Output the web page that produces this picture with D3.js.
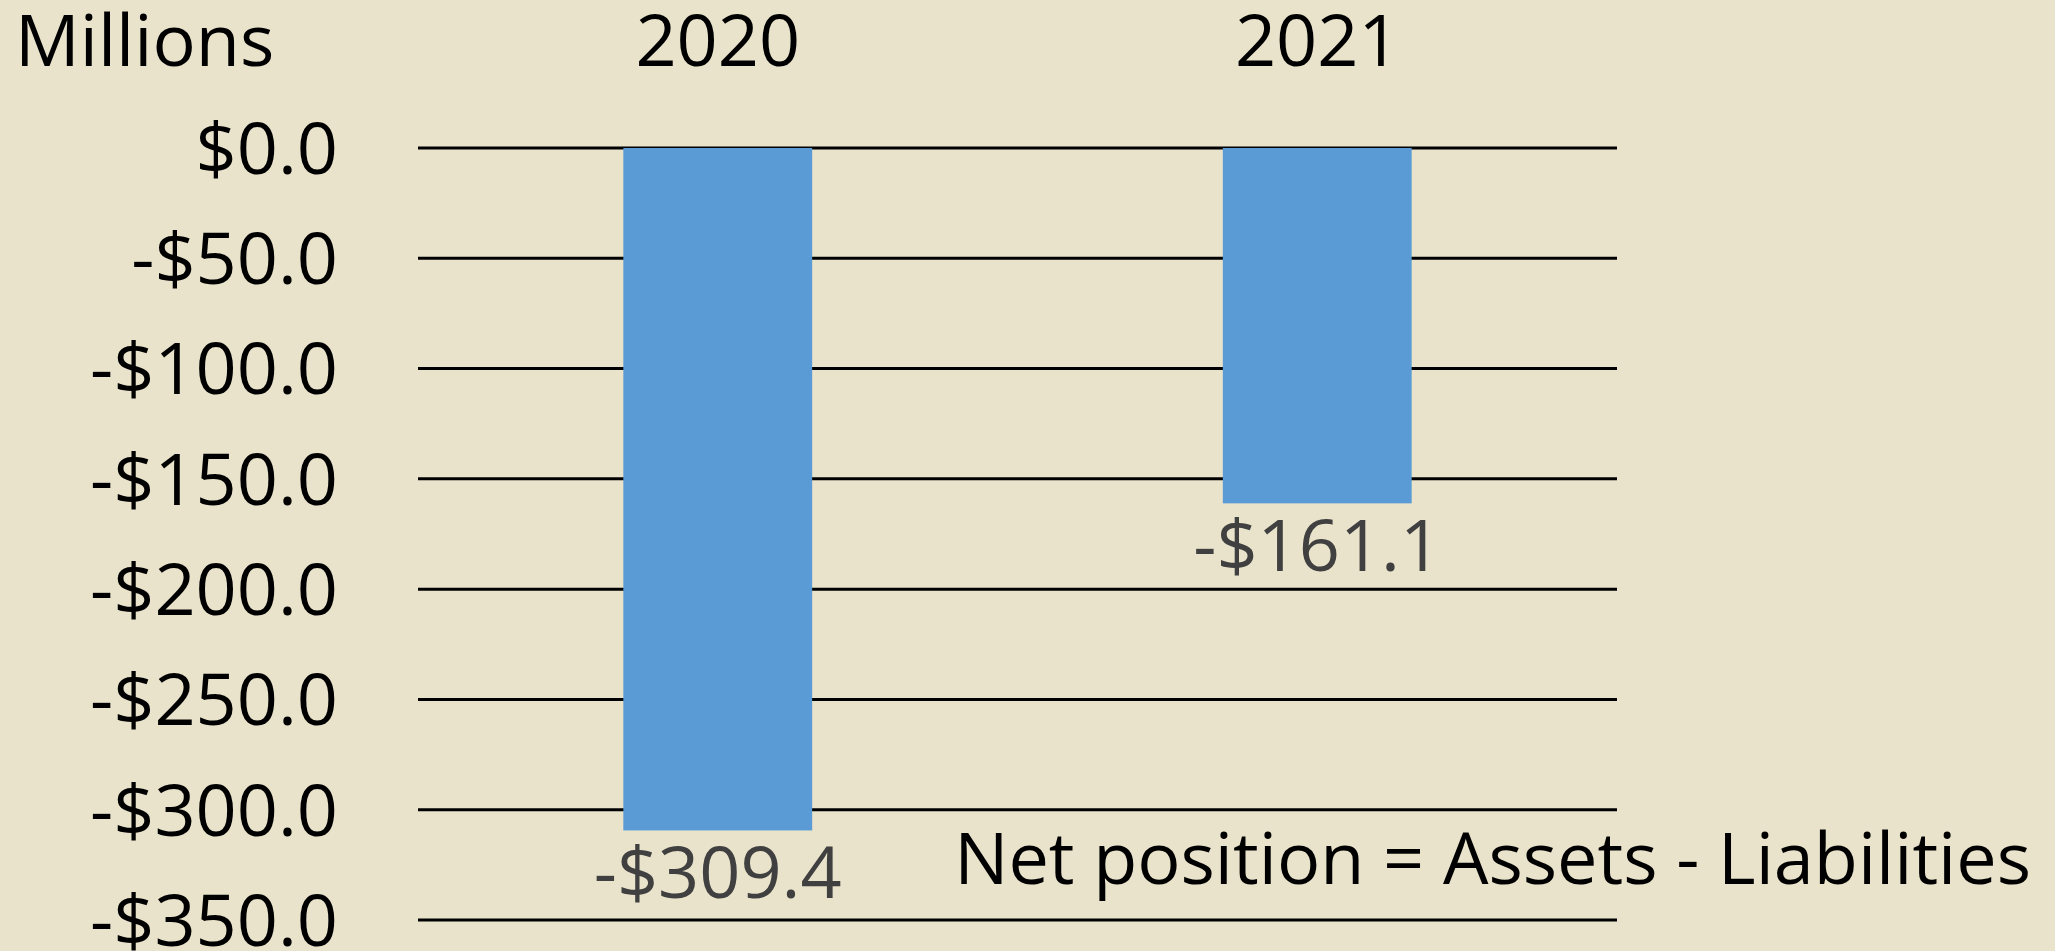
<!DOCTYPE html>
<html>
<head>
<meta charset="utf-8">
<script src="https://cdn.jsdelivr.net/npm/d3@7"></script>
<style>
  html, body { margin: 0; padding: 0; background: #E9E3CB; }
  svg { display: block; font-family: "Open Sans", sans-serif; }
  .grid line { stroke: #000; stroke-width: 3; }
  .bar { fill: #5B9BD5; }
  .tick-label, .cat-label, .unit { fill: #000; font-size: 72px; }
  .value { fill: #404040; font-size: 72px; }
  .note { fill: #000; font-size: 72px; }
</style>
</head>
<body>
<div id="chart"></div>
<script>
var years = ["2020", "2021"];
var netPosition = [-309.4, -161.1];
var tickValues = [0, -50, -100, -150, -200, -250, -300, -350];
var unitLabel = "Millions";
var noteText = "Net position = Assets - Liabilities";

function money(v) {
  return (v < 0 ? "-$" : "$") + Math.abs(v).toFixed(1);
}

function renderChart(el) {
  var fullWidth = 2055,
      fullHeight = 951;

  // plot area matches the gridline span of the original
  var margin = {top: 148, right: 438, bottom: 31, left: 418},
      width = fullWidth - margin.left - margin.right,
      height = fullHeight - margin.top - margin.bottom;

  var x = d3.scaleBand()
            .range([0, width])
            .paddingInner(0.685)
            .paddingOuter(0.3425);
  var y = d3.scaleLinear()
            .range([height, 0]);

  x.domain(years);
  y.domain([-350, 0]);

  var root = d3.select(el).append("svg")
      .attr("width", fullWidth)
      .attr("height", fullHeight);

  root.append("rect")
      .attr("width", fullWidth)
      .attr("height", fullHeight)
      .attr("fill", "#E9E3CB");

  var svg = root.append("g")
      .attr("transform", "translate(" + margin.left + "," + margin.top + ")");

  // horizontal gridlines
  svg.append("g")
      .attr("class", "grid")
    .selectAll("line")
      .data(tickValues)
    .enter().append("line")
      .attr("x1", 0)
      .attr("x2", width)
      .attr("y1", function(d) { return y(d); })
      .attr("y2", function(d) { return y(d); });

  // y tick labels
  svg.selectAll(".tick-label")
      .data(tickValues)
    .enter().append("text")
      .attr("class", "tick-label")
      .attr("x", -80)
      .attr("y", function(d) { return y(d); })
      .attr("dy", "0.36em")
      .attr("text-anchor", "end")
      .text(function(d) { return money(d); });

  // bars
  svg.selectAll(".bar")
      .data(netPosition)
    .enter().append("rect")
      .attr("class", "bar")
      .attr("x", function(d, i) { return x(years[i]); })
      .attr("width", x.bandwidth())
      .attr("y", function(d) { return y(0); })
      .attr("height", function(d) { return y(d) - y(0); });

  // value labels under the bars
  svg.selectAll(".value")
      .data(netPosition)
    .enter().append("text")
      .attr("class", "value")
      .attr("x", function(d, i) { return x(years[i]) + x.bandwidth() / 2; })
      .attr("y", function(d) { return y(d) + 68; })
      .attr("text-anchor", "middle")
      .text(function(d) { return money(d); });

  // category labels along the top
  svg.selectAll(".cat-label")
      .data(years)
    .enter().append("text")
      .attr("class", "cat-label")
      .attr("x", function(d) { return x(d) + x.bandwidth() / 2; })
      .attr("y", 66 - margin.top)
      .attr("text-anchor", "middle")
      .text(function(d) { return d; });

  root.append("text")
      .attr("class", "unit")
      .attr("x", 15)
      .attr("y", 66)
      .text(unitLabel);

  root.append("text")
      .attr("class", "note")
      .attr("x", 2031)
      .attr("y", 884)
      .attr("text-anchor", "end")
      .text(noteText);
}

renderChart("#chart");
</script>
</body>
</html>
